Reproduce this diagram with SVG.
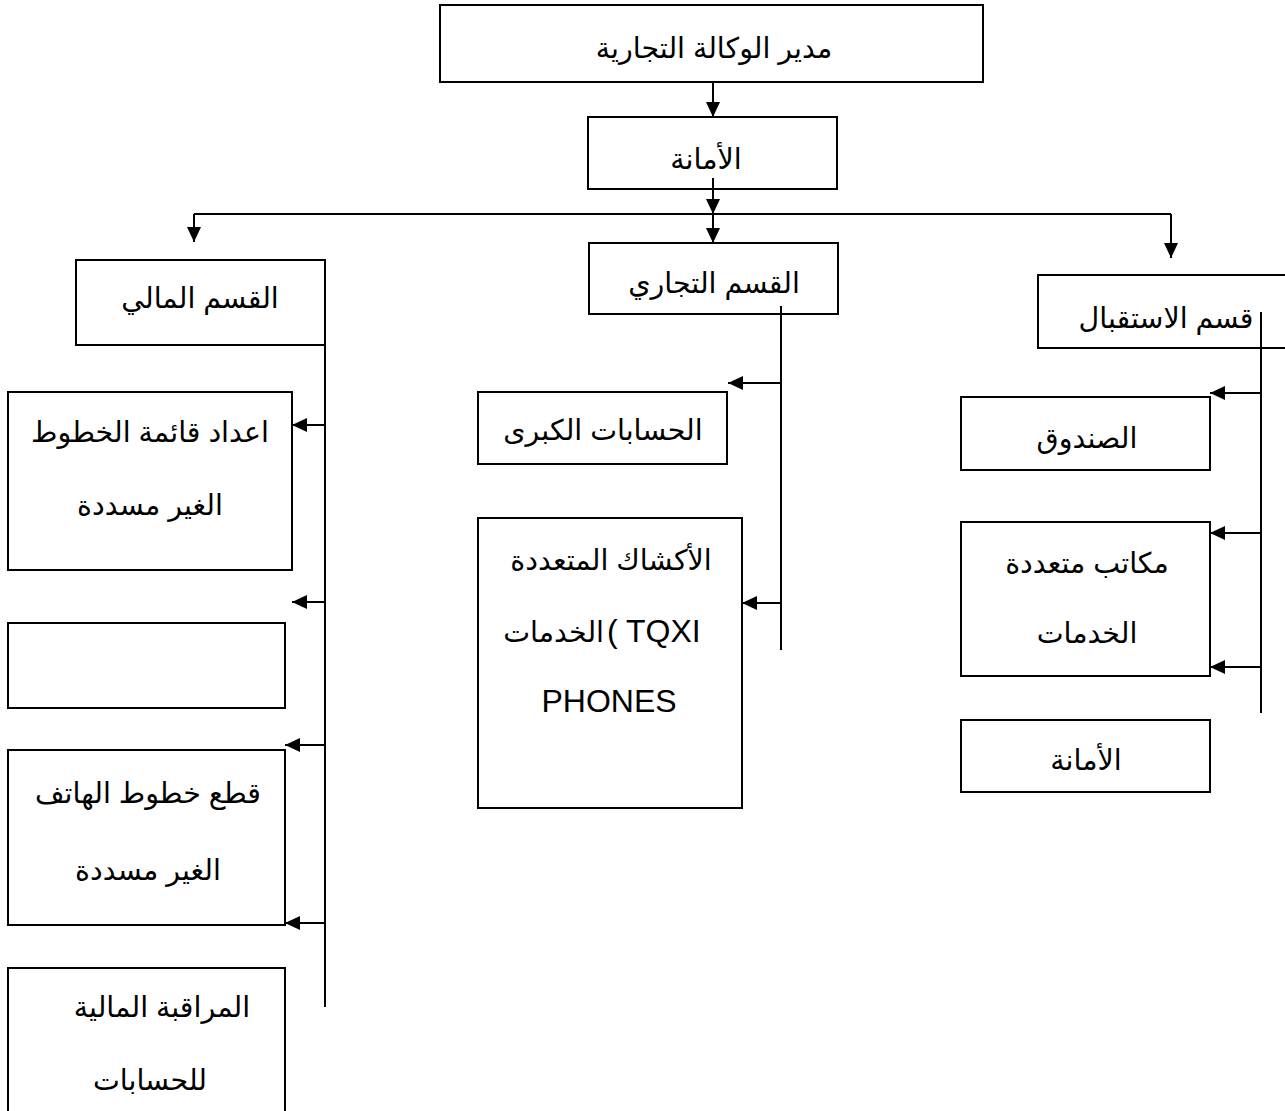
<svg xmlns="http://www.w3.org/2000/svg" width="1285" height="1111" viewBox="0 0 1285 1111">
<style>
.box{fill:#fff;stroke:#000;stroke-width:2}
.t{font-family:"Liberation Sans","DejaVu Sans",sans-serif;font-size:28.5px;fill:#000;text-anchor:middle}
.lat{font-size:32px}
.ln{stroke:#000;stroke-width:2;fill:none}
</style>
<defs>
<marker id="ah" markerUnits="userSpaceOnUse" markerWidth="16" markerHeight="14" refX="15" refY="7" orient="auto">
<path d="M0,0 L15,7 L0,14 z" fill="#000"/>
</marker>
</defs>
<rect width="1285" height="1111" fill="#fff"/>
<g id="n-manager"><rect class="box" x="440" y="5" width="543" height="77"/><text class="t" x="714" y="58">مدير الوكالة التجارية</text></g>
<g id="n-secretariat"><rect class="box" x="588" y="117" width="249" height="72"/><text class="t" x="706" y="169">الأمانة</text></g>
<g id="n-finance"><rect class="box" x="76" y="260" width="249" height="85"/><text class="t" x="200" y="308">القسم المالي</text></g>
<g id="n-commercial"><rect class="box" x="589" y="243" width="249" height="71"/><text class="t" x="714" y="293">القسم التجاري</text></g>
<g id="n-reception"><rect class="box" x="1038" y="275" width="252" height="73"/><text class="t" x="1166" y="328">قسم الاستقبال</text></g>
<g id="n-lines-list"><rect class="box" x="8" y="392" width="284" height="178"/><text class="t" x="150" y="442">اعداد قائمة الخطوط</text><text class="t" x="150" y="515">الغير مسددة</text></g>
<g id="n-empty"><rect class="box" x="8" y="623" width="277" height="85"/></g>
<g id="n-cut-lines"><rect class="box" x="8" y="750" width="277" height="175"/><text class="t" x="148" y="803">قطع خطوط الهاتف</text><text class="t" x="148" y="880">الغير مسددة</text></g>
<g id="n-control"><rect class="box" x="8" y="968" width="277" height="150"/><text class="t" x="162" y="1017">المراقبة المالية</text><text class="t" x="150" y="1090">للحسابات</text></g>
<g id="n-big-accounts"><rect class="box" x="478" y="392" width="249" height="72"/><text class="t" x="603" y="440">الحسابات الكبرى</text></g>
<g id="n-kiosks"><rect class="box" x="478" y="518" width="264" height="290"/><text class="t" x="611" y="570">الأكشاك المتعددة</text><text class="t" x="604" y="642" style="text-anchor:end">الخدمات</text><text class="t lat" x="607" y="642" style="text-anchor:start">( TQXI</text><text class="t lat" x="609" y="712">PHONES</text></g>
<g id="n-cashbox"><rect class="box" x="961" y="397" width="249" height="73"/><text class="t" x="1087" y="448">الصندوق</text></g>
<g id="n-offices"><rect class="box" x="961" y="522" width="249" height="154"/><text class="t" x="1087" y="573">مكاتب متعددة</text><text class="t" x="1087" y="643">الخدمات</text></g>
<g id="n-secretariat2"><rect class="box" x="961" y="720" width="249" height="72"/><text class="t" x="1086" y="770">الأمانة</text></g>
<g id="connectors">
<line class="ln" x1="713" y1="82" x2="713" y2="117" marker-end="url(#ah)"/>
<line class="ln" x1="713" y1="178" x2="713" y2="214" marker-end="url(#ah)"/>
<line class="ln" x1="713" y1="214" x2="713" y2="243" marker-end="url(#ah)"/>
<line class="ln" x1="194" y1="214" x2="1171" y2="214"/>
<line class="ln" x1="194" y1="214" x2="194" y2="242" marker-end="url(#ah)"/>
<line class="ln" x1="1171" y1="214" x2="1171" y2="258" marker-end="url(#ah)"/>
<line class="ln" x1="325" y1="345" x2="325" y2="1007"/>
<line class="ln" x1="325" y1="425" x2="292" y2="425" marker-end="url(#ah)"/>
<line class="ln" x1="325" y1="602" x2="292" y2="602" marker-end="url(#ah)"/>
<line class="ln" x1="325" y1="745" x2="285" y2="745" marker-end="url(#ah)"/>
<line class="ln" x1="325" y1="923" x2="285" y2="923" marker-end="url(#ah)"/>
<line class="ln" x1="781" y1="306" x2="781" y2="650"/>
<line class="ln" x1="781" y1="383" x2="728" y2="383" marker-end="url(#ah)"/>
<line class="ln" x1="781" y1="603" x2="742" y2="603" marker-end="url(#ah)"/>
<line class="ln" x1="1261" y1="312" x2="1261" y2="713"/>
<line class="ln" x1="1261" y1="393" x2="1210" y2="393" marker-end="url(#ah)"/>
<line class="ln" x1="1261" y1="533" x2="1210" y2="533" marker-end="url(#ah)"/>
<line class="ln" x1="1261" y1="667" x2="1210" y2="667" marker-end="url(#ah)"/>
</g>
</svg>
